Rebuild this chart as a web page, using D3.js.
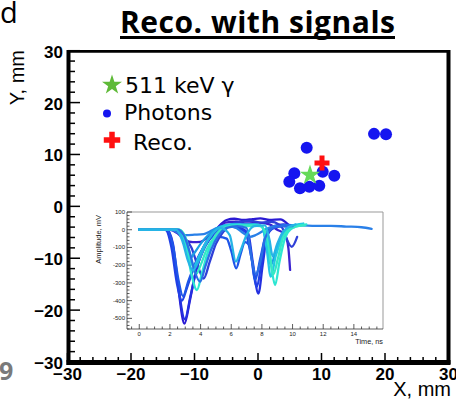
<!DOCTYPE html>
<html><head><meta charset="utf-8">
<script src="https://cdn.jsdelivr.net/npm/d3@7"></script>
<style>html,body{margin:0;padding:0;background:#fff;overflow:hidden}</style>
</head><body>
<svg id="c" width="456" height="400"></svg>
<script>
// ---------- data ----------
const mainTicks = [-30, -20, -10, 0, 10, 20, 30];
const photonsX = [18.27, 20.16, 7.67, 5.72, 4.93, 6.61, 8.08, 9.65, 10.19, 12.02];
const photonsY = [13.97, 13.9, 11.3, 6.36, 4.74, 3.47, 3.78, 3.97, 6.66, 5.89];
const gammaXY = [8.19, 6.03];
const recoXY = [10.08, 8.34];
const legendLabels = ["511 keV \u03b3", "Photons", "Reco."];
const insetXTicks = [0, 2, 4, 6, 8, 10, 12, 14];
const insetYTicks = [100, 0, -100, -200, -300, -400, -500];
const traceColors = ["#2a1ad4", "#2430e0", "#2040e6", "#1d55e8", "#3b22d0", "#2a80e8", "#3040d8",
                     "#1c9ce4", "#22c8e4", "#2ee6d2", "#36e8c4", "#2a6ee6", "#26b4e6"];
// waveforms: [time ns, amplitude mV]
const traces = [
 [[0,0],[1.7,0],[2.1,-60],[2.5,-300],[2.95,-530],[3.3,-400],[3.7,-230],[4.2,-110],[4.7,-40],[5.2,20],[5.7,55],[6.2,62],[6.8,55],[7.4,60],[7.9,64],[8.5,55],[9.2,58],[9.7,30]],
 [[0,0],[1.8,0],[2.2,-80],[2.55,-320],[2.97,-505],[3.35,-370],[3.8,-200],[4.3,-90],[4.9,-20],[5.5,15],[6.0,20],[6.6,10],[7.1,-20],[7.4,-180],[7.77,-360],[8.05,-200],[8.35,-30],[8.8,20],[9.4,30],[10.0,25]],
 [[0,0],[1.7,0],[2.1,-100],[2.45,-300],[2.78,-400],[3.1,-330],[3.5,-230],[4.0,-130],[4.5,-50],[5.0,0],[5.5,25],[6.2,15],[6.9,-10],[7.3,-150],[7.67,-322],[7.95,-200],[8.3,-40],[8.8,10],[9.4,20],[9.9,10]],
 [[0,0],[1.8,0],[2.2,-90],[2.55,-280],[2.85,-375],[3.2,-290],[3.7,-180],[4.2,-100],[4.7,-45],[5.2,-40],[5.7,-50],[6.0,-120],[6.32,-218],[6.6,-140],[6.9,-70],[7.2,-90],[7.56,-284],[7.9,-160],[8.3,-20],[8.8,20],[9.5,25],[10.1,15]],
 [[0,0],[2.0,0],[2.5,-20],[3.0,-60],[3.5,-70],[4.0,-68],[4.5,-40],[5.0,0],[5.6,40],[6.3,45],[7.0,35],[7.8,40],[8.5,30],[9.0,0],[9.4,-20],[9.6,-48],[9.73,-105],[9.84,-227]],
 [[0,0],[2.1,0],[2.6,-20],[3.0,-30],[3.6,-28],[4.2,-25],[4.6,-10],[5.1,10],[5.6,20],[6.2,15],[6.8,-20],[7.2,-40],[7.6,-30],[8.2,0],[8.8,20],[9.5,25],[10.5,25],[11.5,22],[12.5,22],[13.5,18],[14.5,14],[15.16,5]],
 [[0,0],[2.3,0],[2.9,-40],[3.4,-100],[3.8,-200],[4.2,-275],[4.6,-180],[5.0,-80],[5.5,-10],[6.0,30],[6.6,45],[7.3,50],[8.0,40],[8.6,45],[9.1,30],[9.4,0],[9.6,-48],[9.95,-96],[10.3,-40]],
 [[0,0],[2.4,0],[2.8,-40],[3.1,-110],[3.32,-161],[3.6,-130],[4.0,-80],[4.5,-30],[5.0,5],[5.6,25],[6.3,30],[7.0,25],[7.6,30],[8.0,20],[8.3,-80],[8.58,-200],[8.9,-120],[9.3,-30],[9.8,15],[10.5,25]],
 [[0,0],[2.5,0],[2.9,-50],[3.2,-140],[3.54,-208],[3.9,-150],[4.3,-80],[4.8,-20],[5.3,15],[6.0,30],[6.8,30],[7.5,30],[8.0,20],[8.3,-100],[8.58,-265],[8.9,-150],[9.3,-48],[9.85,20],[10.7,35]],
 [[0,0],[2.6,0],[3.0,-60],[3.4,-250],[3.76,-340],[4.1,-240],[4.5,-120],[5.0,-40],[5.5,10],[6.2,25],[7.0,20],[7.8,25],[8.3,-30],[8.6,-200],[8.86,-312],[9.15,-180],[9.5,-50],[10.0,10],[10.9,30]],
 [[0,0],[2.6,0],[3.0,-40],[3.4,-170],[3.7,-250],[4.0,-200],[4.4,-110],[4.9,-40],[5.4,5],[6.1,20],[7.0,25],[7.9,20],[8.4,-60],[8.75,-250],[9.05,-160],[9.4,-40],[10.0,15],[10.8,25]],
 [[0,0],[2.5,0],[2.9,-30],[3.3,-130],[3.6,-230],[3.97,-293],[4.3,-210],[4.7,-110],[5.2,-30],[5.7,10],[6.4,20],[7.0,10],[7.3,-150],[7.6,-250],[7.9,-180],[8.2,-50],[8.7,10],[9.3,20],[10.0,20]],
 [[0,0],[2.4,0],[2.8,-60],[3.2,-180],[3.5,-230],[3.85,-180],[4.3,-90],[4.8,-20],[5.3,10],[5.9,-30],[6.3,-180],[6.6,-120],[7.0,-30],[7.5,20],[8.2,25],[8.5,-60],[8.7,-150],[9.0,-80],[9.4,-10],[10.2,30]]
];

// ---------- layout ----------
const svg = d3.select("#c");
const x = d3.scaleLinear([-30, 30], [67.5, 448.5]);
const y = d3.scaleLinear([-30, 30], [362, 50.7]);
const AX = "'Liberation Sans', Arial, sans-serif";

// top-left letter and cut digit
svg.append("text").attr("x", 0).attr("y", 23).attr("font-family", "'Open Sans', sans-serif")
  .attr("font-size", 29).text("d");
svg.append("text").attr("x", -1).attr("y", 380).attr("font-family", "'Open Sans', sans-serif")
  .attr("font-weight", "bold").attr("font-size", 25).attr("fill", "#7a7a7a").text("9");

// title
const title = svg.append("text").attr("x", 120).attr("y", 33)
  .attr("font-family", "'Open Sans', sans-serif").attr("font-weight", "bold")
  .attr("font-size", 30).text("Reco. with signals");
const tw = title.node().getComputedTextLength();
title.attr("letter-spacing", ((275 - tw) / 17).toFixed(2));
svg.append("rect").attr("x", 120).attr("y", 36).attr("width", 275).attr("height", 3).attr("fill", "#000");

// ticks (inward)
const minor = d3.range(-30, 30.001, 2);
const g = svg.append("g").attr("stroke", "#000").attr("stroke-width", 1.5);
minor.forEach(v => {
  const major = mainTicks.includes(v);
  g.append("line").attr("x1", 68).attr("x2", major ? 80 : 75).attr("y1", y(v)).attr("y2", y(v));
  g.append("line").attr("y1", 362).attr("y2", major ? 353 : 357).attr("x1", x(v)).attr("x2", x(v));
});

// photons
svg.append("g").selectAll("circle").data(photonsX).join("circle")
  .attr("cx", d => x(d)).attr("cy", (d, i) => y(photonsY[i])).attr("r", 6).attr("fill", "#1515f0");
// reco cross
svg.append("path").attr("d", d3.symbol(d3.symbolCross, 125)())
  .attr("transform", `translate(${x(recoXY[0])},${y(recoXY[1])})`).attr("fill", "#ff1010");
// gamma star
svg.append("path").attr("d", d3.symbol(d3.symbolStar, 128)())
  .attr("transform", `translate(${x(gammaXY[0])},${y(gammaXY[1])})`).attr("fill", "#66d95a");

// legend
svg.append("path").attr("d", d3.symbol(d3.symbolStar, 124)()).attr("transform", "translate(112,85)").attr("fill", "#5fba38");
svg.append("circle").attr("cx", 107).attr("cy", 113.5).attr("r", 4).attr("fill", "#1515f0");
svg.append("path").attr("d", d3.symbol(d3.symbolCross, 150)()).attr("transform", "translate(112,140)").attr("fill", "#ff1010");
const legX = [125, 124, 133], legY = [93, 119.5, 149.5];
legendLabels.forEach((t, i) => svg.append("text").attr("x", legX[i]).attr("y", legY[i])
  .attr("font-family", "'DejaVu Sans', Verdana, sans-serif").attr("font-size", 22).text(t));

// ---------- inset ----------
const xi = d3.scaleLinear([-0.8, 15.9], [127, 383]);
const yi = d3.scaleLinear([-560, 100], [329, 212]);
const ins = svg.append("g");
ins.append("rect").attr("x", 127).attr("y", 212).attr("width", 256).attr("height", 117).attr("fill", "#fff");
ins.append("line").attr("x1", 127).attr("x2", 383).attr("y1", 212).attr("y2", 212).attr("stroke", "#999");
ins.append("line").attr("x1", 383).attr("x2", 383).attr("y1", 212).attr("y2", 329).attr("stroke", "#999");
const ig = ins.append("g").attr("stroke", "#333").attr("stroke-width", 0.8);
d3.range(-560, 100.001, 20).forEach(v => {
  const major = v % 100 === 0;
  ig.append("line").attr("x1", 127).attr("x2", major ? 132 : 129.5).attr("y1", yi(v)).attr("y2", yi(v));
});
d3.range(-0.5, 15.9, 0.5).forEach(v => {
  const major = Math.abs(v % 2) < 1e-9;
  ig.append("line").attr("y1", 329).attr("y2", major ? 324 : 326.5).attr("x1", xi(v)).attr("x2", xi(v));
});
ig.append("line").attr("x1", 127).attr("x2", 127).attr("y1", 212).attr("y2", 329);
ig.append("line").attr("x1", 127).attr("x2", 383).attr("y1", 329).attr("y2", 329);
insetYTicks.forEach(v => ins.append("text").attr("x", 125).attr("y", yi(v) + 2).attr("text-anchor", "end")
  .attr("font-family", AX).attr("font-size", 6).attr("fill", "#222").text(v));
insetXTicks.forEach(v => ins.append("text").attr("x", xi(v)).attr("y", 336).attr("text-anchor", "middle")
  .attr("font-family", AX).attr("font-size", 6).attr("fill", "#222").text(v));
ins.append("text").attr("transform", "translate(101,215) rotate(-90)").attr("text-anchor", "end")
  .attr("font-family", AX).attr("font-size", 7.5).attr("fill", "#222").text("Amplitude, mV");
ins.append("text").attr("x", 383).attr("y", 344).attr("text-anchor", "end")
  .attr("font-family", AX).attr("font-size", 7.3).attr("fill", "#222").text("Time, ns");
const line = d3.line().x(d => xi(d[0])).y(d => yi(d[1])).curve(d3.curveMonotoneX);
ins.append("g").selectAll("path").data(traces).join("path")
  .attr("d", line).attr("fill", "none").attr("stroke", (d, i) => traceColors[i])
  .attr("stroke-width", 2.3).attr("stroke-linejoin", "round").attr("stroke-linecap", "round");

// ---------- frame ----------
svg.append("line").attr("x1", 67).attr("x2", 449).attr("y1", 51.3).attr("y2", 51.3).attr("stroke", "#000").attr("stroke-width", 2.7);
svg.append("line").attr("x1", 448.5).attr("x2", 448.5).attr("y1", 50).attr("y2", 364).attr("stroke", "#000").attr("stroke-width", 4);
svg.append("line").attr("x1", 68.5).attr("x2", 68.5).attr("y1", 50).attr("y2", 365).attr("stroke", "#000").attr("stroke-width", 4);
svg.append("line").attr("x1", 66.5).attr("x2", 450.5).attr("y1", 362.5).attr("y2", 362.5).attr("stroke", "#000").attr("stroke-width", 5);

// tick labels
const fmt = v => v < 0 ? "\u2212" + Math.abs(v) : String(v);
mainTicks.forEach(v => {
  svg.append("text").attr("x", 63).attr("y", y(v) + 7).attr("text-anchor", "end")
    .attr("font-family", AX).attr("font-weight", "bold").attr("font-size", 17).text(fmt(v));
  svg.append("text").attr("x", x(v)).attr("y", 380).attr("text-anchor", "middle")
    .attr("font-family", AX).attr("font-weight", "bold").attr("font-size", 17).text(fmt(v));
});
svg.append("text").attr("transform", "translate(24,50) rotate(-90)").attr("text-anchor", "end")
  .attr("font-family", AX).attr("font-size", 20).text("Y, mm");
svg.append("text").attr("x", 451).attr("y", 396).attr("text-anchor", "end")
  .attr("font-family", AX).attr("font-size", 20).text("X, mm");
</script>
</body></html>
